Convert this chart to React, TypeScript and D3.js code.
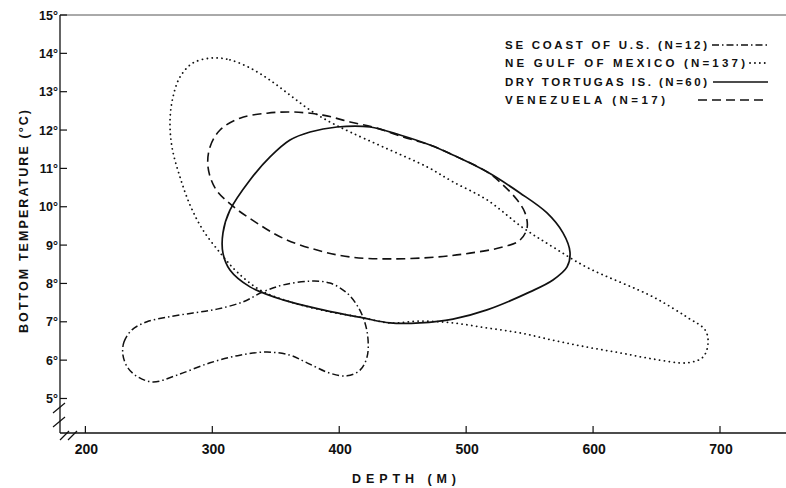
import React from "react";
import * as d3 from "d3";

// ---- data (depth in m, bottom temperature in °C) ----
const xTicks = [200, 300, 400, 500, 600, 700];
const yTicks = [5, 6, 7, 8, 9, 10, 11, 12, 13, 14, 15];

const seCoast: [number, number][] = [
  [229.6, 6.13], [230.4, 6.47], [236.7, 6.79], [248.5, 7.0], [264.3, 7.12], [284.8, 7.23],
  [303.7, 7.33], [324.2, 7.52], [339.9, 7.78], [355.7, 7.96], [377.0, 8.06], [392.7, 8.01],
  [406.1, 7.75], [414.8, 7.39], [420.3, 6.97], [422.7, 6.53], [421.9, 6.08], [416.4, 5.74],
  [406.1, 5.59], [392.7, 5.66], [374.6, 5.93], [361.2, 6.13], [343.1, 6.21], [321.8, 6.13],
  [298.2, 5.93], [272.2, 5.61], [253.3, 5.43], [241.5, 5.56], [233.6, 5.79],
];

const neGulf: [number, number][] = [
  [300.5, 13.88], [313.9, 13.83], [329.7, 13.62], [345.5, 13.3], [361.2, 12.91], [377.0, 12.52],
  [392.7, 12.21], [408.5, 11.95], [434.5, 11.56], [469.2, 11.04], [489.6, 10.65], [516.4, 10.18],
  [544.8, 9.45], [568.4, 8.95], [595.2, 8.42], [647.2, 7.65], [674.0, 7.12],
  [688.2, 6.79], [690.6, 6.45], [686.6, 6.08], [674.0, 5.93], [647.2, 6.03], [621.2, 6.19],
  [595.2, 6.34], [568.4, 6.52], [542.4, 6.71], [516.4, 6.84], [489.6, 6.97], [463.6, 7.02],
  [440.0, 6.97], [416.4, 7.12], [392.7, 7.26], [361.2, 7.52], [337.6, 7.83], [319.5, 8.3],
  [307.6, 8.74], [292.7, 9.39], [282.4, 10.05], [274.5, 10.78], [268.2, 11.56], [266.7, 12.26],
  [269.0, 12.86], [274.5, 13.38], [284.8, 13.75],
];

const dryTortugas: [number, number][] = [
  [308.4, 9.32], [313.9, 9.91], [329.7, 10.7], [345.5, 11.3], [361.2, 11.74], [377.0, 11.95],
  [398.2, 12.08], [424.3, 12.08], [447.9, 11.87], [471.5, 11.61], [489.6, 11.35], [516.4, 10.91],
  [542.4, 10.36], [563.7, 9.84], [576.3, 9.32], [581.8, 8.82], [579.5, 8.43], [568.4, 8.09],
  [550.3, 7.78], [516.4, 7.31], [489.6, 7.07], [463.6, 6.97], [440.0, 6.97],
  [418.7, 7.1], [387.2, 7.31], [355.7, 7.57], [329.7, 7.91], [313.9, 8.35], [308.4, 8.79],
];

const venezuela: [number, number][] = [
  [296.6, 11.04], [298.2, 11.56], [306.1, 12.0], [321.8, 12.31], [343.1, 12.44], [363.6, 12.47],
  [387.2, 12.39], [408.5, 12.21], [429.8, 12.05], [450.2, 11.82], [471.5, 11.61], [489.6, 11.35],
  [516.4, 10.91], [529.0, 10.57], [540.1, 10.18], [546.4, 9.84], [548.0, 9.45], [542.4, 9.13],
  [529.0, 8.95], [503.0, 8.79], [477.0, 8.69], [440.0, 8.64], [408.5, 8.69], [382.5, 8.87],
  [355.7, 9.18], [334.0, 9.6], [316.0, 10.02], [302.5, 10.47],
];

const legendLabels = [
  "SE COAST OF U.S. (N=12)",
  "NE GULF OF MEXICO (N=137)",
  "DRY TORTUGAS IS. (N=60)",
  "VENEZUELA (N=17)",
];

const FONT = "'Liberation Sans', Arial, sans-serif";
const INK = "#111";

export default function App() {
  const W = 786, H = 488;
  const x = d3.scaleLinear().domain([180, 752]).range([60, 786]);
  const y = d3.scaleLinear().domain([4.1, 15]).range([433, 15]);
  const line = d3
    .line<[number, number]>()
    .x((d) => x(d[0]))
    .y((d) => y(d[1]))
    .curve(d3.curveCatmullRomClosed.alpha(0.5));

  const styles = [
    { data: seCoast, dash: "7 3 1.5 3", width: 1.5, cap: "butt" as const },
    { data: neGulf, dash: "0.1 4.8", width: 1.8, cap: "round" as const },
    { data: dryTortugas, dash: undefined, width: 1.7, cap: "butt" as const },
    { data: venezuela, dash: "9 5", width: 1.6, cap: "butt" as const },
  ];

  const legendText = [
    { len: 202, yb: 49, x1: 712, x2: 768 },
    { len: 240, yb: 67, x1: 750, x2: 768 },
    { len: 202, yb: 86, x1: 713, x2: 768 },
    { len: 160, yb: 104, x1: 698, x2: 768 },
  ];

  const x0 = 60, yBase = 433;

  return (
    <svg
      width={W}
      height={H}
      style={{ position: "absolute", left: 0, top: 0, background: "#fff" }}
      fontFamily={FONT}
    >
      <rect width={W} height={H} fill="#fff" />
      {/* frame */}
      <line x1={x0} x2={W} y1={15} y2={15} stroke="#555" strokeWidth={1} />
      <line x1={x0} x2={x0} y1={15} y2={yBase} stroke={INK} strokeWidth={1.3} />
      <line x1={x0} x2={W} y1={yBase} y2={yBase} stroke={INK} strokeWidth={1.5} />
      {/* axis breaks */}
      <line x1={53} y1={413} x2={65} y2={403} stroke={INK} strokeWidth={1.2} />
      <line x1={53} y1={427} x2={65} y2={417} stroke={INK} strokeWidth={1.2} />
      <line x1={60} y1={440} x2={69} y2={431} stroke={INK} strokeWidth={1.2} />
      <line x1={68} y1={440} x2={77} y2={431} stroke={INK} strokeWidth={1.2} />

      {/* y ticks */}
      {yTicks.map((t) => (
        <g key={"y" + t}>
          <line x1={x0} x2={x0 + 7} y1={y(t)} y2={y(t)} stroke={INK} strokeWidth={1.2} />
          <text
            x={58}
            y={y(t) + 4.5}
            textAnchor="end"
            fontSize={12.5}
            fontWeight="bold"
            fill={INK}
          >
            {t}°
          </text>
        </g>
      ))}
      {/* x ticks */}
      {xTicks.map((t) => (
        <g key={"x" + t}>
          <line x1={x(t)} x2={x(t)} y1={yBase} y2={yBase - 7} stroke={INK} strokeWidth={1.2} />
          <text x={x(t) + 1} y={454} textAnchor="middle" fontSize={14} fontWeight="bold" fill={INK}>
            {t}
          </text>
        </g>
      ))}

      {/* axis titles */}
      <text
        x={352}
        y={483}
        fontSize={12.5}
        fontWeight="bold"
        fill={INK}
        textLength={104}
        lengthAdjust="spacing"
      >
        DEPTH (M)
      </text>
      <text
        transform={`translate(28, 333) rotate(-90)`}
        fontSize={12.5}
        fontWeight="bold"
        fill={INK}
        textLength={223}
        lengthAdjust="spacing"
      >
        BOTTOM TEMPERATURE (°C)
      </text>

      {/* contours */}
      {styles.map((s, i) => (
        <path
          key={"c" + i}
          d={line(s.data) || ""}
          fill="none"
          stroke={INK}
          strokeWidth={s.width}
          strokeDasharray={s.dash}
          strokeLinecap={s.cap}
        />
      ))}

      {/* legend */}
      {legendLabels.map((lab, i) => {
        const L = legendText[i];
        const s = styles[i];
        return (
          <g key={"l" + i}>
            <text
              x={505}
              y={L.yb}
              fontSize={11.5}
              fontWeight="bold"
              fill={INK}
              textLength={L.len}
              lengthAdjust="spacing"
            >
              {lab}
            </text>
            <line
              x1={L.x1}
              x2={L.x2}
              y1={L.yb - 4}
              y2={L.yb - 4}
              stroke={INK}
              strokeWidth={s.width}
              strokeDasharray={s.dash}
              strokeLinecap={s.cap}
            />
          </g>
        );
      })}
    </svg>
  );
}
